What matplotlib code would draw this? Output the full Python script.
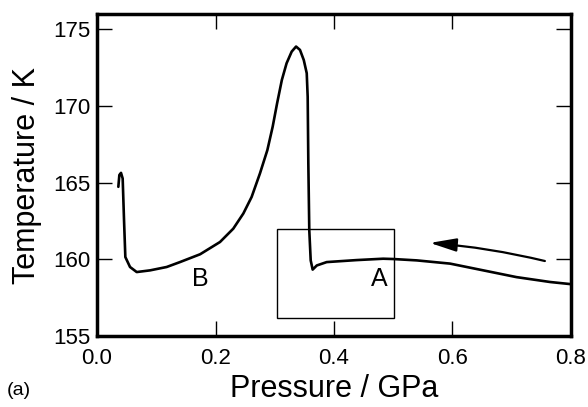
import numpy as np
import matplotlib
matplotlib.use("Agg")
from matplotlib import pyplot as plt
from matplotlib.patches import Rectangle

plt.rcParams['font.family'] = ['Liberation Sans', 'DejaVu Sans']

# pressure (GPa) and temperature (K)
pressure = [0.036, 0.0377, 0.0405, 0.0433, 0.0456, 0.0478, 0.0557, 0.067, 0.0895, 0.1176,
            0.14, 0.174, 0.2076, 0.230, 0.247, 0.261, 0.275, 0.2875, 0.2965, 0.304,
            0.312, 0.320, 0.3286, 0.336, 0.3426, 0.349, 0.354, 0.3556, 0.3567, 0.3583,
            0.3607, 0.364, 0.371, 0.3877, 0.438, 0.483, 0.50, 0.54, 0.596, 0.652,
            0.708, 0.765, 0.80]
temperature = [164.73, 165.5, 165.64, 165.27, 162.55, 160.15, 159.5, 159.17, 159.28, 159.5,
               159.82, 160.33, 161.13, 162.0, 162.99, 164.07, 165.6, 167.12, 168.65, 170.18,
               171.7, 172.79, 173.55, 173.88, 173.66, 173.0, 172.14, 170.6, 166.25, 161.9,
               159.93, 159.33, 159.6, 159.82, 159.95, 160.04, 160.02, 159.93, 159.72, 159.28,
               158.84, 158.52, 158.38]

box_x = [0.303, 0.501]
box_y = [156.2, 162.0]
arrow_from = (0.756, 159.89)
arrow_to = (0.562, 161.07)
labels = {'B': (0.174, 158.7), 'A': (0.477, 158.7)}

fig = plt.figure(figsize=(5.88, 4.07), dpi=100)
ax = fig.add_axes([0.165, 0.1745, 0.806, 0.791])

ax.plot(pressure, temperature, color='black', lw=1.9, solid_joinstyle='round',
        solid_capstyle='round')
ax.add_patch(Rectangle((box_x[0], box_y[0]), box_x[1] - box_x[0], box_y[1] - box_y[0],
                       fill=False, edgecolor='black', lw=1.0))
ax.annotate('', xy=arrow_to, xytext=arrow_from,
            arrowprops=dict(arrowstyle='-|>,head_length=1.6,head_width=0.4', color='black',
                            lw=1.6, connectionstyle='arc3,rad=0.04', shrinkA=0, shrinkB=0))
for name, (x, y) in labels.items():
    ax.text(x, y, name, fontsize=18, ha='center', va='center')

ax.set_xlim(0, 0.8)
ax.set_ylim(155, 176)
ax.set_xticks([0.0, 0.2, 0.4, 0.6, 0.8])
ax.set_xticklabels(['0.0', '0.2', '0.4', '0.6', '0.8'])
ax.set_yticks([155, 160, 165, 170, 175])
ax.tick_params(direction='in', length=11, width=1.0, labelsize=16,
               top=True, right=True)
ax.tick_params(axis='x', pad=9)
ax.tick_params(axis='y', pad=5)
for s in ax.spines.values():
    s.set_linewidth(2.5)

ax.set_xlabel('Pressure / GPa', fontsize=22, labelpad=3)
ax.set_ylabel('Temperature / K', fontsize=22, labelpad=8)
fig.text(0.012, 0.02, '(a)', fontsize=14, ha='left', va='bottom')

fig.savefig('out.png', dpi=100)
